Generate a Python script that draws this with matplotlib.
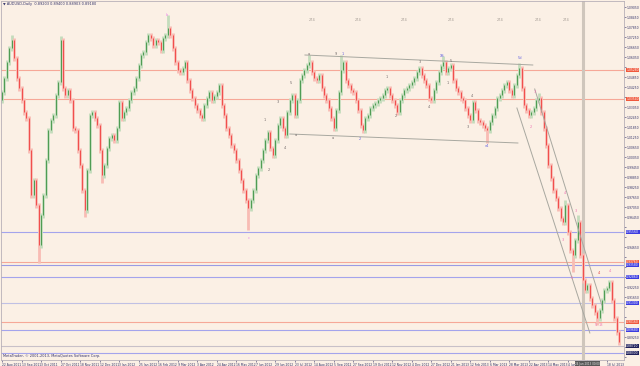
import matplotlib
matplotlib.use("Agg")
import matplotlib.pyplot as plt
import matplotlib.transforms as mtransforms

# AUDUSD daily, one candle per two sessions (close prices)
first_open = 1.0348
closes = [
    1.0396, 1.0480, 1.0576, 1.0660, 1.0708, 1.0600, 1.0480, 1.0420, 1.0348, 1.0276,
    1.0240, 1.0048, 0.9778, 0.9868, 0.9718, 0.9478, 0.9658, 0.9778, 0.9988, 1.0168,
    1.0228, 1.0258, 1.0378, 1.0456, 1.0708, 1.0420, 1.0378, 1.0408, 1.0348, 1.0180,
    1.0168, 1.0048, 0.9958, 0.9808, 0.9688, 0.9928, 1.0258, 1.0276, 1.0240, 1.0198,
    1.0048, 0.9898, 0.9958, 1.0060, 1.0120, 1.0138, 1.0108, 1.0180, 1.0336, 1.0240,
    1.0276, 1.0300, 1.0348, 1.0396, 1.0420, 1.0480, 1.0558, 1.0618, 1.0636, 1.0696,
    1.0738, 1.0720, 1.0678, 1.0708, 1.0696, 1.0648, 1.0720, 1.0738, 1.0780, 1.0738,
    1.0660, 1.0576, 1.0528, 1.0516, 1.0540, 1.0576, 1.0468, 1.0408, 1.0360, 1.0318,
    1.0288, 1.0258, 1.0240, 1.0318, 1.0360, 1.0396, 1.0348, 1.0372, 1.0396, 1.0438,
    1.0318, 1.0258, 1.0180, 1.0138, 1.0078, 1.0048, 0.9988, 0.9928, 0.9868, 0.9808,
    0.9748, 0.9700, 0.9748, 0.9808, 0.9898, 0.9940, 0.9988, 1.0048, 1.0108, 1.0156,
    1.0060, 1.0018, 1.0108, 1.0198, 1.0240, 1.0180, 1.0138, 1.0276, 1.0348, 1.0378,
    1.0258, 1.0348, 1.0468, 1.0498, 1.0528, 1.0558, 1.0576, 1.0516, 1.0480, 1.0468,
    1.0498, 1.0420, 1.0378, 1.0348, 1.0300, 1.0240, 1.0180, 1.0288, 1.0396, 1.0528,
    1.0576, 1.0468, 1.0438, 1.0408, 1.0396, 1.0348, 1.0288, 1.0198, 1.0168, 1.0240,
    1.0258, 1.0300, 1.0318, 1.0330, 1.0348, 1.0360, 1.0378, 1.0408, 1.0420, 1.0378,
    1.0348, 1.0318, 1.0276, 1.0348, 1.0378, 1.0408, 1.0420, 1.0438, 1.0456, 1.0480,
    1.0516, 1.0540, 1.0498, 1.0468, 1.0438, 1.0360, 1.0348, 1.0408, 1.0456, 1.0516,
    1.0552, 1.0576, 1.0516, 1.0540, 1.0558, 1.0468, 1.0420, 1.0396, 1.0360, 1.0348,
    1.0300, 1.0258, 1.0228, 1.0336, 1.0288, 1.0228, 1.0216, 1.0198, 1.0180, 1.0168,
    1.0216, 1.0258, 1.0300, 1.0360, 1.0378, 1.0408, 1.0438, 1.0456, 1.0408, 1.0378,
    1.0438, 1.0498, 1.0540, 1.0420, 1.0318, 1.0288, 1.0258, 1.0276, 1.0300, 1.0348,
    1.0360, 1.0276, 1.0180, 1.0078, 0.9958, 0.9880, 0.9808, 0.9760, 0.9700, 0.9640,
    0.9616, 0.9718, 0.9556, 0.9448, 0.9418, 0.9508, 0.9616, 0.9418, 0.9268, 0.9208,
    0.9238, 0.9160, 0.9118, 0.9076, 0.9040, 0.9088, 0.9148, 0.9208, 0.9220, 0.9256,
    0.9148, 0.9040, 0.8956, 0.8896,
]
wick = 0.0015
spike_highs = {4: 1.0740, 24: 1.0730, 68: 1.0858, 89: 1.0450, 126: 1.0618,
               139: 1.0618, 181: 1.0612, 212: 1.0570, 220: 1.0390, 231: 0.9748, 236: 0.9658}
spike_lows = {15: 0.9370, 34: 0.9646, 41: 0.9850, 101: 0.9568, 136: 1.0168,
              148: 1.0150, 199: 1.0090, 234: 0.9316, 244: 0.8998}

x_labels = ["22 Aug 2011", "13 Sep 2011", "3 Oct 2011", "27 Oct 2011", "18 Nov 2011",
            "12 Dec 2011", "3 Jan 2012", "25 Jan 2012", "16 Feb 2012", "9 Mar 2012",
            "3 Apr 2012", "24 Apr 2012", "16 May 2012", "7 Jun 2012", "29 Jun 2012",
            "23 Jul 2012", "14 Aug 2012", "5 Sep 2012", "27 Sep 2012", "19 Oct 2012",
            "12 Nov 2012", "4 Dec 2012", "27 Dec 2012", "21 Jan 2013", "12 Feb 2013",
            "6 Mar 2013", "28 Mar 2013", "22 Apr 2013", "14 May 2013", "4 Jun 2013",
            "", "18 Jul 2013"]
bars_per_label = 8

# horizontal price levels: (price, line colour, label box colour)
levels = [
    (1.0528, "#f6a898", "#f0583c"),
    (1.0354, "#f6a898", "#f0583c"),
    (0.9556, "#a4a4ec", "#3c3ce0"),
    (0.9376, "#f6a898", "#f0583c"),
    (0.9358, "#9a9ae4", "#3c3ce0"),
    (0.9286, "#a4a4ec", "#3c3ce0"),
    (0.9130, "#c0c0e4", "#3c3ce0"),
    (0.9016, "#f6a898", "#f0583c"),
    (0.8968, "#a4a4ec", "#3c3ce0"),
    (0.8872, "#c8c0c8", "#20205a"),
    (0.8830, "#a4a4ec", "#20205a"),
]

# trend / channel lines: (bar0, price0, bar1, price1)
trendlines = [
    (124.2, 1.0618, 217.6, 1.0558),
    (118.0, 1.0144, 211.5, 1.0090),
    (211.1, 1.0300, 241.0, 0.8950),
    (218.4, 1.0414, 245.9, 0.9118),
]

# wave labels: (bar, price, text, colour)
gray = "#706868"
pink = "#f070b0"
blue = "#6060e0"
wave_labels = [
    (67.6, 1.0860, "b", "#e880e8"), (101.2, 0.9522, "c", "#e880e8"),
    (107.8, 1.0228, "1", gray), (109.4, 0.9928, "2", gray), (113.1, 1.0336, "3", gray),
    (116.0, 1.0060, "4", gray), (118.4, 1.0450, "5", gray), (120.5, 1.0138, "a", gray),
    (125.8, 1.0622, "a", gray), (137.0, 1.0626, "9", gray), (139.5, 1.0626, "1", blue),
    (135.7, 1.0118, "a", gray), (146.7, 1.0112, "2", blue),
    (157.8, 1.0486, "1", gray), (161.5, 1.0252, "2", gray), (171.3, 1.0576, "3", gray),
    (175.0, 1.0306, "4", gray), (180.3, 1.0614, "XS", blue), (184.0, 1.0584, "5", gray),
    (182.8, 1.0450, "1", gray), (191.0, 1.0186, "3", gray), (192.6, 1.0372, "4", gray),
    (198.8, 1.0070, "v4", blue), (212.3, 1.0602, "5d", blue),
    (216.8, 1.0186, "2", pink), (218.4, 1.0396, "3", pink), (230.7, 0.9790, "4", pink),
    (229.9, 0.9508, "3", pink), (233.6, 0.9280, "5", pink), (235.2, 0.9682, "3", pink),
    (244.7, 0.9310, "4", "#e04040"), (249.2, 0.9322, "4", pink),
    (243.4, 0.8998, "5", pink), (245.6, 0.8998, "13", pink),
]
top_tags = [127.0, 145.9, 164.8, 184.0, 204.1, 219.7, 231.1]
separator_bar = 238.1

opens = [first_open] + closes[:-1]
xs = list(range(len(closes)))
highs = [max(o, c) + wick for o, c in zip(opens, closes)]
lows = [min(o, c) - wick for o, c in zip(opens, closes)]
for k, v in spike_highs.items():
    highs[k] = max(highs[k], v)
for k, v in spike_lows.items():
    lows[k] = min(lows[k], v)

up = [c >= o for o, c in zip(opens, closes)]
wick_cols = ["#c4dcbc" if u else "#f8bcb4" for u in up]
body_cols = ["#3a9040" if u else "#f03a3a" for u in up]

fs = 2.5
xfs = 2.2
yfs = 2.2
bg = "#fbf0e5"
fig = plt.figure(figsize=(6.4, 3.66), dpi=100, facecolor=bg)
ax = fig.add_axes([1 / 640, 6 / 366, 623 / 640, 359 / 366], facecolor=bg)

for p, lc, _ in levels:
    ax.axhline(p, color=lc, lw=0.8, zorder=1)
ax.axvline(separator_bar, color="#cfc6bc", lw=2.2, zorder=1)

ax.vlines(xs, lows, highs, colors=wick_cols, lw=2.0, zorder=2)
ax.vlines(xs, [min(o, c) for o, c in zip(opens, closes)],
          [max(o, c) for o, c in zip(opens, closes)], colors=body_cols, lw=0.6, zorder=3)

for b0, p0, b1, p1 in trendlines:
    ax.plot([b0, b1], [p0, p1], color="#a8a8a0", lw=0.7, zorder=4)

for b, p, t, c in wave_labels:
    ax.text(b, p, t, fontsize=fs, color=c, ha="center", va="center", zorder=5)
for b in top_tags:
    ax.text(b, 1.0828, "274", fontsize=fs, color="#a09890", ha="center", va="center")

ax.set_xlim(-0.41, 255.0)
ax.set_ylim(0.8788, 1.0942)

# right price axis; the level boxes hide the tick labels they sit on
yt = [round(1.0905 - 0.006 * k, 4) for k in range(36)]
ax.yaxis.tick_right()
ax.set_yticks(yt)
ax.set_yticklabels([f"{v:.5f}" if all(abs(v - p) > 0.0034 for p, _, _ in levels) else ""
                    for v in yt])
ax.tick_params(axis="y", labelsize=yfs, labelcolor="#303068", length=1.2,
               width=0.4, color="#303068", pad=0.5)

# bottom date axis
ax.set_xticks(range(0, bars_per_label * len(x_labels), bars_per_label))
ax.set_xticklabels(x_labels, ha="left")
ax.tick_params(axis="x", labelsize=xfs, labelcolor="#303068", length=1.5,
               width=0.4, color="#303068", pad=0.5)

trans = mtransforms.blended_transform_factory(ax.transAxes, ax.transData)
for p, _, bc in levels:
    ax.text(1.0035, p, f"{p:.5f}", transform=trans, fontsize=yfs, color="white",
            ha="left", va="center", zorder=6, clip_on=False,
            bbox=dict(facecolor=bc, edgecolor="none", pad=0.3))

xtrans = mtransforms.blended_transform_factory(ax.transData, ax.transAxes)
ax.text(separator_bar + 2.0, -0.005, "24 Jun 2013 00:00", transform=xtrans,
        fontsize=2.0, color="#e8e8e8", ha="center", va="top", clip_on=False, zorder=6,
        bbox=dict(facecolor="#585858", edgecolor="none", pad=0.3))

ax.text(0.003, 0.997, "\u25bc AUDUSD,Daily  0.89203 0.89400 0.88903 0.89180",
        transform=ax.transAxes, fontsize=fs, color="#303068", ha="left", va="top")
ax.text(0.003, 0.006, "MetaTrader, \u00a9 2001-2013, MetaQuotes Software Corp.",
        transform=ax.transAxes, fontsize=fs, color="#303068", ha="left", va="bottom")

for s in ax.spines.values():
    s.set_color("#b8b0b8")
    s.set_linewidth(0.6)

fig.savefig("out.png", dpi=100, facecolor=bg)
